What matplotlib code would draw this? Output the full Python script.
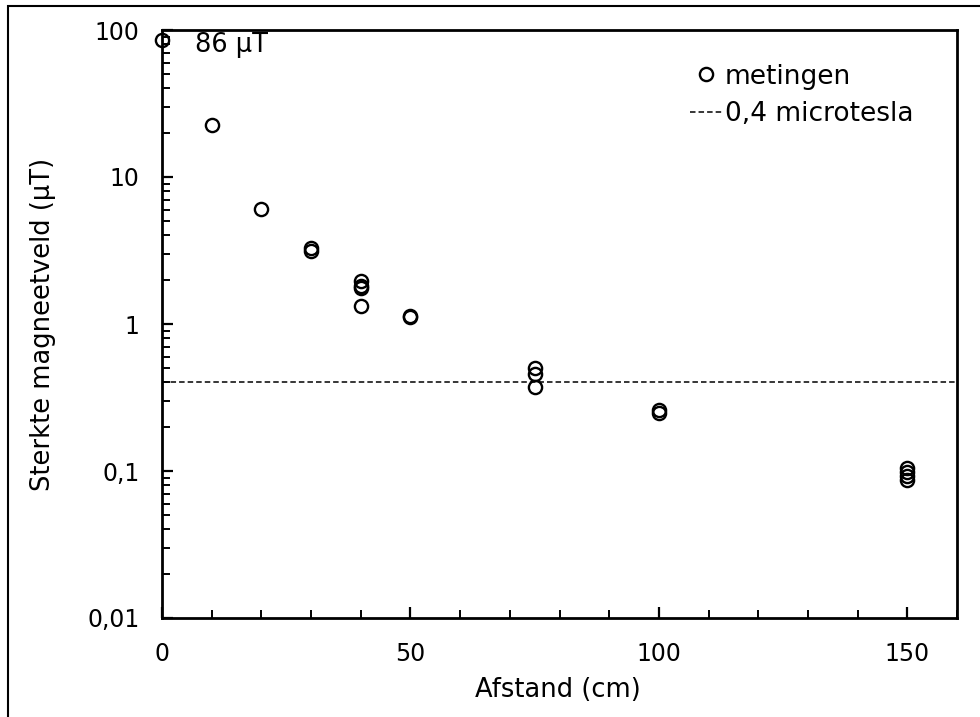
import matplotlib
matplotlib.use("Agg")
import matplotlib.pyplot as plt
from matplotlib.patches import Rectangle
from matplotlib.ticker import FixedLocator, FuncFormatter, LogLocator, NullFormatter, MultipleLocator

# Data
afstand = [0, 10, 20, 30, 30, 40, 40, 40, 40, 50, 50, 75, 75, 75, 100, 100, 150, 150, 150, 150]
sterkte = [86, 22.6, 6.06, 3.27, 3.12, 1.97, 1.8, 1.75, 1.33, 1.13, 1.12, 0.50, 0.46, 0.37, 0.26, 0.25, 0.105, 0.098, 0.092, 0.087]
grens = 0.4
y_ticks = [0.01, 0.1, 1, 10, 100]
y_labels = ["0,01", "0,1", "1", "10", "100"]
x_ticks = [0, 50, 100, 150]

plt.rcParams['font.family'] = ['DejaVu Sans']
FS_TICK = 17
FS_LAB = 18.5
FS_LEG = 19

fig = plt.figure(figsize=(9.8, 7.17), dpi=100)
ax = fig.add_axes([162/980, 1-618/717, (957-162)/980, (618-30)/717])

ax.plot(afstand, sterkte, linestyle='none', marker='o', markersize=9.5,
        markerfacecolor='none', markeredgecolor='black', markeredgewidth=1.7,
        label='metingen', clip_on=False, zorder=5)
ax.axhline(grens, color='black', linewidth=1.1, dashes=(3.6, 2.0), label='0,4 microtesla')

ax.set_yscale('log')
ax.set_ylim(0.01, 100)
ax.set_xlim(0, 160)

ax.yaxis.set_major_locator(FixedLocator(y_ticks))
ax.yaxis.set_major_formatter(FuncFormatter(lambda v, p: y_labels[y_ticks.index(v)] if v in y_ticks else ""))
ax.yaxis.set_minor_locator(LogLocator(base=10, subs=range(2, 10)))
ax.yaxis.set_minor_formatter(NullFormatter())
ax.xaxis.set_major_locator(FixedLocator(x_ticks))
ax.xaxis.set_minor_locator(MultipleLocator(10))

ax.tick_params(axis='both', which='major', direction='in', length=8, width=1.6, labelsize=FS_TICK)
ax.tick_params(axis='both', which='minor', direction='in', length=6, width=1.4)
ax.tick_params(axis='x', which='major', pad=17)
ax.tick_params(axis='y', which='major', pad=16)

for s in ax.spines.values():
    s.set_linewidth(2)

ax.set_xlabel('Afstand (cm)', fontsize=FS_LAB)
ax.xaxis.label.set_va('center')
ax.xaxis.set_label_coords(0.498, (618-690)/588)
ax.set_ylabel('Sterkte magneetveld (µT)', fontsize=FS_LAB)
ax.yaxis.label.set_va('center')
ax.yaxis.set_label_coords((43-162)/795, 0.5)

ax.text(0.041, 0.974, '86 μT', transform=ax.transAxes, fontsize=FS_LAB, ha='left', va='center')

leg = ax.legend(loc='upper left', bbox_to_anchor=((690-162)/795, 0.943), frameon=False, fontsize=FS_LEG,
                handlelength=1.22, handletextpad=0.1, labelspacing=0.45, borderaxespad=0, borderpad=0)

fig.patches.append(Rectangle((8/980, -0.5), 2, (717-6)/717 + 0.5, transform=fig.transFigure,
                             fill=False, edgecolor='black', linewidth=1.5))

fig.savefig('out.png', dpi=100)
